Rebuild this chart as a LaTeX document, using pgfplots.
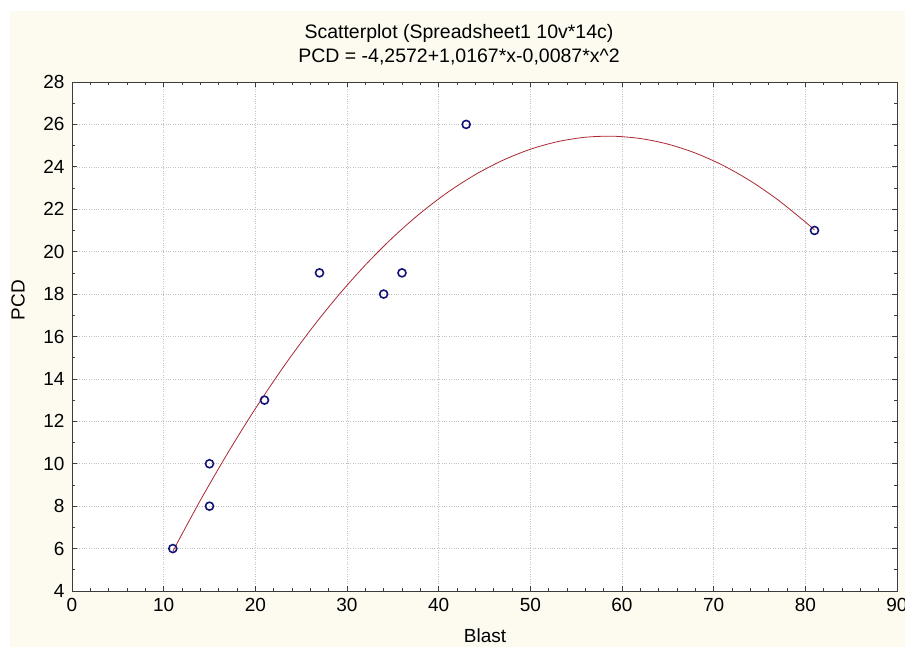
\documentclass[border=0pt]{standalone}
\usepackage{fontspec}
\setmainfont{Liberation Sans}
\usepackage{pgfplots}
\pgfplotsset{compat=1.18}

\definecolor{cream}{RGB}{253,250,240}
\definecolor{navy}{RGB}{20,20,120}
\definecolor{fitred}{RGB}{170,40,50}
\definecolor{gridgray}{RGB}{195,195,195}
\definecolor{axisgray}{RGB}{60,60,60}

\begin{document}
\begin{tikzpicture}[x=1pt,y=1pt]
\path[use as bounding box] (-72,-56) rectangle (833,591);
\fill[cream] (-62,-56) rectangle (833,580);
\begin{axis}[
    at={(0,0)}, anchor=south west,
    scale only axis,
    width=825pt, height=509pt,
    xmin=0, xmax=90,
    ymin=4, ymax=28,
    xtick={0,10,...,90},
    ytick={4,6,...,28},
    minor x tick num=4,
    minor y tick num=1,
    tick align=inside,
    major tick length=5pt,
    minor tick length=3pt,
    axis line style={axisgray, line width=0.9pt},
    every tick/.style={axisgray, line width=0.7pt},
    xmajorgrids, ymajorgrids,
    grid style={gridgray, dotted, line width=0.6pt},
    axis background/.style={fill=white},
    tick label style={font=\fontsize{19}{22}\selectfont},
    xticklabel style={yshift=-4pt},
    yticklabel style={xshift=-4pt},
    /pgf/number format/assume math mode=true,
    clip=false,
]
% fitted curve
\addplot[fitred, line width=0.8pt, smooth] coordinates {
  (11,5.874) (14,8.271) (17,10.512) (20,12.597) (23,14.525) (26,16.296)
  (29,17.910) (32,19.368) (35,20.670) (38,21.815) (41,22.803) (44,23.634)
  (47,24.309) (50,24.828) (53,25.190) (56,25.395) (59,25.443) (62,25.335)
  (65,25.071) (68,24.650) (71,24.072) (74,23.337) (77,22.446) (80,21.399)
  (81,21.015)
};
% observed points
\addplot[only marks, mark=o, mark size=4pt,
  mark options={draw=navy, fill=white, line width=1.6pt}] coordinates {
  (11,6) (15,10) (15,8) (21,13) (27,19) (34,18) (36,19) (43,26) (81,21)
};
\end{axis}
\node[anchor=base, font=\fontsize{19.5}{22}\selectfont] at (387,552) {Scatterplot (Spreadsheet1 10v*14c)};
\node[anchor=base, font=\fontsize{19.5}{22}\selectfont] at (387,528) {PCD = -4,2572+1,0167*x-0,0087*x\^{}2};
\node[anchor=base, font=\fontsize{19}{22}\selectfont] at (413,-52) {Blast};
\node[rotate=90, font=\fontsize{19}{22}\selectfont] at (-54,291) {PCD};
\end{tikzpicture}
\end{document}
